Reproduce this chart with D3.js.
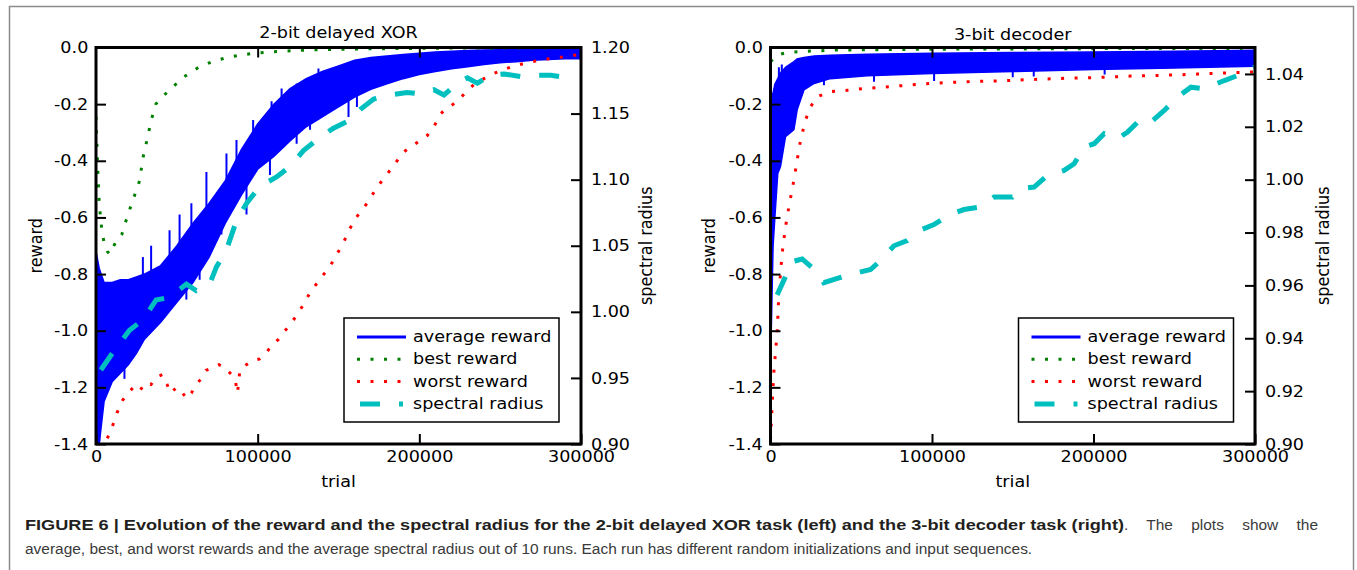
<!DOCTYPE html>
<html>
<head>
<meta charset="utf-8">
<script src="https://cdn.jsdelivr.net/npm/d3@7"></script>
<style>
  body { margin: 0; background: #fff; }
</style>
</head>
<body>
<script>
// ---- 2-bit delayed XOR (left) ----
const gridL   = [0, 2000, 5000, 10000, 15000, 20000, 25000, 30000, 40000, 50000, 60000, 70000, 80000, 90000, 100000,
                 110000, 120000, 130000, 140000, 150000, 160000, 170000, 180000, 190000, 200000, 210000, 220000, 230000,
                 240000, 250000, 260000, 270000, 280000, 290000, 300000];
const avgHiL  = [-0.72, -0.78, -0.83, -0.83, -0.82, -0.82, -0.81, -0.80, -0.77, -0.70, -0.62, -0.55, -0.47, -0.36, -0.27,
                 -0.20, -0.145, -0.11, -0.085, -0.065, -0.045, -0.035, -0.03, -0.025, -0.02, -0.016, -0.013, -0.011,
                 -0.009, -0.008, -0.007, -0.006, -0.006, -0.006, -0.006];
const avgLoL  = [-1.40, -1.40, -1.25, -1.18, -1.15, -1.12, -1.08, -1.03, -0.97, -0.90, -0.83, -0.74, -0.62, -0.52, -0.43,
                 -0.385, -0.33, -0.28, -0.245, -0.21, -0.175, -0.148, -0.128, -0.11, -0.095, -0.085, -0.075, -0.068,
                 -0.06, -0.054, -0.05, -0.045, -0.042, -0.04, -0.04];
const spikeTL = [2000, 17600, 26900, 55900, 64100, 77600, 93100, 107600, 124100, 132400, 156200, 161400,
                 29000, 34100, 45500, 51700, 59000, 68300, 80700, 86900, 97200, 108600, 114800, 124100, 137600];
const spikeRL = [-1.39, -1.17, -1.06, -0.89, -0.82, -0.66, -0.59, -0.45, -0.34, -0.29, -0.245, -0.21,
                 -0.74, -0.70, -0.645, -0.59, -0.55, -0.44, -0.374, -0.327, -0.256, -0.19, -0.145, -0.127, -0.074];
const bestTL  = [0, 500, 1000, 2000, 3500, 5000, 7000, 8500, 10000, 12000, 14000, 16000, 18000, 20000, 22000, 24000,
                 27000, 29000, 32000, 34000, 37000, 40000, 45500, 54000, 64000, 72000, 80000, 90000, 100000, 115000,
                 130000, 150000, 180000, 220000, 260000, 300000];
const bestRL  = [-0.245, -0.33, -0.42, -0.55, -0.64, -0.69, -0.72, -0.73, -0.71, -0.69, -0.68, -0.66, -0.62, -0.59, -0.55, -0.52,
                 -0.47, -0.39, -0.315, -0.26, -0.20, -0.18, -0.15, -0.105, -0.068, -0.05, -0.037, -0.026, -0.019, -0.013,
                 -0.009, -0.006, -0.004, -0.002, -0.001, 0];
const worstTL = [7000, 10000, 13000, 16500, 20000, 23000, 27000, 30000, 34000, 37000, 41000, 44000, 46000, 50000, 53000,
                 56000, 59000, 62000, 65000, 68000, 72000, 76000, 80000, 83000, 86000, 87500, 89000, 93000, 97000, 101000,
                 105000, 109000, 113000, 117000, 121000, 125000, 129000, 133000, 137000, 141000, 145000, 149000, 153000,
                 157000, 161000, 165000, 169000, 173000, 177000, 181000, 185000, 190000, 195000, 200000, 205000, 209000,
                 213000, 217000, 221000, 226000, 230000, 235000, 240000, 246000, 252000, 258000, 265000, 272000, 280000,
                 288000, 296000, 300000];
const worstRL = [-1.38, -1.34, -1.29, -1.245, -1.22, -1.20, -1.215, -1.185, -1.19, -1.165, -1.155, -1.19, -1.22, -1.20, -1.215,
                 -1.24, -1.22, -1.19, -1.17, -1.14, -1.13, -1.12, -1.13, -1.15, -1.17, -1.22, -1.14, -1.12, -1.105, -1.10,
                 -1.08, -1.05, -1.03, -1.00, -0.97, -0.94, -0.90, -0.86, -0.83, -0.80, -0.77, -0.73, -0.69,
                 -0.64, -0.60, -0.57, -0.54, -0.50, -0.47, -0.44, -0.41, -0.37, -0.35, -0.33, -0.31, -0.28,
                 -0.235, -0.215, -0.20, -0.175, -0.15, -0.125, -0.11, -0.092, -0.078, -0.066, -0.056, -0.048, -0.04,
                 -0.034, -0.027, -0.025];
const radTL   = [3000, 11400, 20700, 29000, 37200, 45500, 55900, 62000, 70300, 74500, 80700, 86900, 93100, 101400, 111700,
                 120000, 128300, 138600, 146900, 157200, 163400, 171700, 182000, 192400, 200700, 209000, 215200, 223400,
                 229700, 235900, 244100, 252400, 262700, 273100, 281400, 291700];
const radL    = [0.956, 0.971, 0.986, 0.994, 1.009, 1.011, 1.021, 1.016, 1.021, 1.034, 1.047, 1.069, 1.082, 1.095, 1.102,
                 1.110, 1.122, 1.132, 1.139, 1.145, 1.153, 1.161, 1.164, 1.166, 1.165, 1.168, 1.164, 1.173,
                 1.177, 1.173, 1.179, 1.180, 1.178, 1.179, 1.179, 1.177];

// ---- 3-bit decoder (right) ----
const gridR   = [0, 400, 1600, 2700, 4500, 6200, 9300, 14500, 16500, 20700, 27000, 37000, 60000, 100000, 150000, 200000, 250000, 300000];
const avgHiR  = [-0.17, -0.17, -0.16, -0.13, -0.11, -0.09, -0.07, -0.05, -0.04, -0.035, -0.03, -0.027, -0.024, -0.02, -0.018, -0.016, -0.013, -0.01];
const avgLoR  = [-1.38, -1.02, -0.70, -0.60, -0.445, -0.42, -0.315, -0.29, -0.22, -0.15, -0.127, -0.11, -0.10, -0.092, -0.085, -0.078, -0.072, -0.066];
const spikeTR = [5200, 7000, 33100, 64100, 101300, 150000, 163000, 206900];
const spikeRR = [-0.07, -0.06, -0.133, -0.121, -0.118, -0.105, -0.102, -0.095];
const bestTR  = [0, 2000, 4000, 10000, 20000, 40000, 100000, 200000, 300000];
const bestRR  = [-0.05, -0.04, -0.027, -0.018, -0.014, -0.009, -0.006, -0.004, -0.003];
const worstTR = [0, 1000, 2000, 4100, 5200, 7200, 9300, 11400, 14500, 16500, 18600, 21700, 24800, 28900, 37200, 47500,
                 57900, 78500, 99200, 119800, 140500, 161200, 181800, 202500, 223100, 243800, 264400, 285100, 300000];
const worstRR = [-1.386, -1.268, -1.15, -1.01, -0.868, -0.727, -0.633, -0.562, -0.468, -0.398, -0.327, -0.256, -0.209, -0.174,
                 -0.156, -0.151, -0.145, -0.136, -0.127, -0.121, -0.118, -0.113, -0.109, -0.106, -0.101, -0.098, -0.094, -0.089, -0.086];
const radTR   = [4100, 8300, 13400, 19600, 28900, 33000, 43400, 51700, 62000, 68200, 76400, 84700, 93000, 101200, 111600,
                 119800, 130200, 138400, 149800, 155000, 163200, 171500, 181800, 188000, 194200, 200400, 206600, 214900,
                 221100, 229300, 235500, 243800, 252000, 260300, 268600, 281000, 289200, 300000];
const radR    = [0.9564, 0.962, 0.969, 0.970, 0.965, 0.961, 0.963, 0.9645, 0.966, 0.9695, 0.975, 0.977, 0.981, 0.983, 0.987,
                 0.9887, 0.9897, 0.9934, 0.9934, 0.9966, 0.9972, 1.0016, 1.0035, 1.006, 1.0123, 1.0136, 1.0174, 1.0155,
                 1.018, 1.023, 1.0218, 1.0262, 1.0312, 1.035, 1.0344, 1.0375, 1.0394, 1.0427];

// ---- ticks / labels ----
const trialTicks  = [0, 100000, 200000, 300000];
const rewardTicks = [0, -0.2, -0.4, -0.6, -0.8, -1.0, -1.2, -1.4];
const radTicksL   = [0.90, 0.95, 1.00, 1.05, 1.10, 1.15, 1.20];
const radTicksR   = [0.90, 0.92, 0.94, 0.96, 0.98, 1.00, 1.02, 1.04];
const legendNames = ['average reward', 'best reward', 'worst reward', 'spectral radius'];

const COL = { avg: '#0000ff', best: '#008000', worst: '#ff0000', rad: '#00bfbf' };
const STRETCH = 1.1;
const PLOT_FONT = '"DejaVu Sans", sans-serif';

const svg = d3.select('body').append('svg').attr('width', 1357).attr('height', 570);

// figure frame
svg.append('rect').attr('x', 9.5).attr('y', 6.5).attr('width', 1344).attr('height', 600)
   .attr('fill', 'none').attr('stroke', '#8c8c8c').attr('stroke-width', 1.5);

function label(g, x, y, str, anchor, rot) {
  return g.append('text')
    .attr('transform', `translate(${x},${y}) scale(${STRETCH},1)` + (rot ? ` rotate(${rot})` : ''))
    .attr('text-anchor', anchor || 'start')
    .attr('font-family', PLOT_FONT)
    .attr('font-size', 16)
    .attr('fill', '#000')
    .text(str);
}

function drawPanel(p) {
  const g = svg.append('g');
  const x = d3.scaleLinear().domain([0, 300000]).range([p.L, p.R]);
  const y = d3.scaleLinear().domain([-1.4, 0]).range([p.B, p.T]);
  const y2 = d3.scaleLinear().domain([0.9, p.sMax]).range([p.B, p.T]);

  svg.append('clipPath').attr('id', 'clip' + p.id)
     .append('rect').attr('x', p.L).attr('y', p.T).attr('width', p.R - p.L).attr('height', p.B - p.T);
  const plot = g.append('g').attr('clip-path', `url(#clip${p.id})`);

  // average reward band
  const band = p.grid.map((t, i) => ({ t, hi: p.hi[i], lo: p.lo[i] }));
  plot.append('path').datum(band)
      .attr('d', d3.area().x(d => x(d.t)).y0(d => y(d.lo)).y1(d => y(d.hi)))
      .attr('fill', COL.avg).attr('stroke', COL.avg).attr('stroke-width', 1.5);
  const mid = d3.scaleLinear().domain(p.grid).range(p.grid.map((t, i) => (p.hi[i] + p.lo[i]) / 2));
  plot.selectAll('line.spike').data(p.spikeT.map((t, i) => ({ t, r: p.spikeR[i] }))).join('line')
      .attr('class', 'spike')
      .attr('x1', d => x(d.t)).attr('x2', d => x(d.t))
      .attr('y1', d => y(mid(d.t))).attr('y2', d => y(d.r))
      .attr('stroke', COL.avg).attr('stroke-width', 2);

  const line = d3.line().x(d => x(d[0])).y(d => y(d[1]));
  plot.append('path').datum(p.bestT.map((t, i) => [t, p.bestR[i]]))
      .attr('d', line).attr('fill', 'none').attr('stroke', COL.best)
      .attr('stroke-width', 3).attr('stroke-dasharray', '3,10.5');
  plot.append('path').datum(p.worstT.map((t, i) => [t, p.worstR[i]]))
      .attr('d', line).attr('fill', 'none').attr('stroke', COL.worst)
      .attr('stroke-width', 3).attr('stroke-dasharray', '3,10.5');
  const line2 = d3.line().x(d => x(d[0])).y(d => y2(d[1]));
  plot.append('path').datum(p.radT.map((t, i) => [t, p.rad[i]]))
      .attr('d', line2).attr('fill', 'none').attr('stroke', COL.rad)
      .attr('stroke-width', 5).attr('stroke-dasharray', '20,19');

  // frame
  g.append('rect').attr('x', p.L).attr('y', p.T).attr('width', p.R - p.L).attr('height', p.B - p.T)
   .attr('fill', 'none').attr('stroke', '#000').attr('stroke-width', 3);

  const styleAxis = a => {
    a.select('.domain').remove();
    a.attr('font-size', 16).attr('font-family', PLOT_FONT);
    a.selectAll('.tick line').attr('stroke', '#000').attr('stroke-width', 2);
    a.selectAll('.tick text').attr('fill', '#000').attr('transform', `scale(${STRETCH},1)`);
  };
  g.append('g').attr('transform', `translate(${p.L},0)`)
   .call(d3.axisLeft(y).tickValues(rewardTicks).tickSize(-10).tickPadding(7).tickFormat(d => d.toFixed(1)))
   .call(styleAxis);
  g.append('g').attr('transform', `translate(${p.R},0)`)
   .call(d3.axisRight(y2).tickValues(p.radTicks).tickSize(-10).tickPadding(9).tickFormat(d => d.toFixed(2)))
   .call(styleAxis);
  g.append('g').attr('transform', `translate(0,${p.B})`)
   .call(d3.axisBottom(x).tickValues(trialTicks).tickSize(-10).tickPadding(7).tickFormat(d3.format('d')))
   .call(styleAxis);
  g.append('g').attr('transform', `translate(0,${p.T})`)
   .call(d3.axisTop(x).tickValues([100000, 200000]).tickSize(-10).tickFormat(''))
   .call(styleAxis);

  const cx = (p.L + p.R) / 2, cy = (p.T + p.B) / 2;
  label(g, cx, p.titleY, p.title, 'middle');
  label(g, cx, 487, 'trial', 'middle');
  label(g, p.yLabX, cy, 'reward', 'middle', -90);
  label(g, p.y2LabX, cy, 'spectral radius', 'middle', -90);

  // legend
  const lg = g.append('g');
  lg.append('rect').attr('x', p.legX).attr('y', 318).attr('width', 215).attr('height', 104)
    .attr('fill', '#fff').attr('stroke', '#000').attr('stroke-width', 1.5);
  const samples = [
    { c: COL.avg, w: 3, d: null, a: 13, b: 62 },
    { c: COL.best, w: 3, d: '3,10.5', a: 13, b: 62 },
    { c: COL.worst, w: 3, d: '3,10.5', a: 13, b: 62 },
    { c: COL.rad, w: 5, d: '20,19', a: 16, b: 59 }
  ];
  legendNames.forEach((name, i) => {
    const by = 342 + i * 22.3;
    const s = samples[i];
    lg.append('line').attr('x1', p.legX + s.a).attr('x2', p.legX + s.b)
      .attr('y1', by - 5).attr('y2', by - 5)
      .attr('stroke', s.c).attr('stroke-width', s.w)
      .attr('stroke-dasharray', s.d);
    label(lg, p.legX + 69, by, name);
  });
}

drawPanel({ id: 'L', L: 96, R: 581, T: 47.5, B: 444, sMax: 1.20, radTicks: radTicksL,
  title: '2-bit delayed XOR', titleY: 38, yLabX: 42, y2LabX: 652, legX: 344,
  grid: gridL, hi: avgHiL, lo: avgLoL, spikeT: spikeTL, spikeR: spikeRL,
  bestT: bestTL, bestR: bestRL, worstT: worstTL, worstR: worstRL, radT: radTL, rad: radL });

drawPanel({ id: 'R', L: 770.5, R: 1255, T: 47.5, B: 444, sMax: 1.05, radTicks: radTicksR,
  title: '3-bit decoder', titleY: 40, yLabX: 715, y2LabX: 1329, legX: 1018.5,
  grid: gridR, hi: avgHiR, lo: avgLoR, spikeT: spikeTR, spikeR: spikeRR,
  bestT: bestTR, bestR: bestRR, worstT: worstTR, worstR: worstRR, radT: radTR, rad: radR });

// caption
const CAP_FONT = '"Liberation Sans", Arial, sans-serif';
const CAP_SIZE = 15.5;
const cap = svg.append('g');
const capLine2 = cap.append('text')
   .style('font-family', CAP_FONT).style('font-size', CAP_SIZE + 'px').attr('fill', '#3a3a3a')
   .text('average, best, and worst rewards and the average spectral radius out of 10 runs. Each run has different random initializations and input sequences.');
const squeeze = 1008 / capLine2.node().getComputedTextLength();
capLine2.attr('transform', `translate(25,554) scale(${squeeze},1)`);

// bold lead-in, then the justified tail of the first line
cap.append('text').attr('x', 25).attr('y', 530)
   .style('font-family', CAP_FONT).style('font-size', CAP_SIZE + 'px')
   .attr('font-weight', 'bold').attr('fill', '#231f20')
   .attr('textLength', 1099).attr('lengthAdjust', 'spacingAndGlyphs')
   .text('FIGURE 6 | Evolution of the reward and the spectral radius for the 2-bit delayed XOR task (left) and the 3-bit decoder task (right)');
const tail = cap.append('text')
   .style('font-family', CAP_FONT).style('font-size', CAP_SIZE + 'px').attr('fill', '#3a3a3a')
   .attr('transform', `translate(1124,530) scale(${squeeze},1)`)
   .text('. The plots show the');
tail.attr('word-spacing', (194 / squeeze - tail.node().getComputedTextLength()) / 4);
</script>
</body>
</html>
